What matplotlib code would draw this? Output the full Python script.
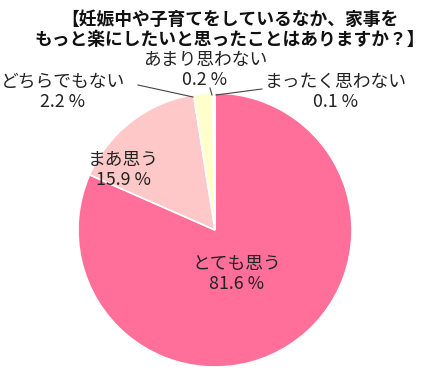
import matplotlib.pyplot as plt

plt.rcParams['font.family'] = ['Noto Sans CJK JP', 'DejaVu Sans']

labels = ['とても思う', 'まあ思う', 'どちらでもない', 'あまり思わない', 'まったく思わない']
values = [81.6, 15.9, 2.2, 0.2, 0.1]
colors = ['#FF6F99', '#FFC8C8', '#FFFFCC', '#FFE0E0', '#FFD0DD']

title = '【妊娠中や子育てをしているなか、家事を\nもっと楽にしたいと思ったことはありますか？】'

W, H = 432, 376
fig = plt.figure(figsize=(W / 100, H / 100), dpi=100)
ax = fig.add_axes([0, 0, 1, 1])

cx, cy, r = 215, H - 230, 137
ax.pie(values, colors=colors, startangle=90, counterclock=False,
       center=(cx, cy), radius=r, frame=True,
       wedgeprops=dict(edgecolor='white', linewidth=1.2))
ax.set_xlim(0, W)
ax.set_ylim(0, H)
ax.axis('off')

fig.text(0.533, 1 - 30 / H, title, ha='center', va='center', fontsize=12.8,
         fontweight='bold', color='#111111', linespacing=1.2)

tc = '#222222'
fs = 12.8
pos = {
    'とても思う': (237, 274),
    'まあ思う': (123, 170),
    'どちらでもない': (63, 92),
    'あまり思わない': (205, 70),
    'まったく思わない': (336, 92),
}
for lab, v in zip(labels, values):
    x, y = pos[lab]
    ax.text(x, H - y, f'{lab}\n{v} %', ha='center', va='center',
            fontsize=fs, color=tc, linespacing=1.2)

# leader lines
for (x0, y0), (x1, y1) in [((138, 85), (193, 97)), ((210, 88), (212, 95)),
                           ((262, 89), (216, 95))]:
    ax.plot([x0, x1], [H - y0, H - y1], color='#444444', lw=0.8)

fig.savefig('out.png', dpi=100)
